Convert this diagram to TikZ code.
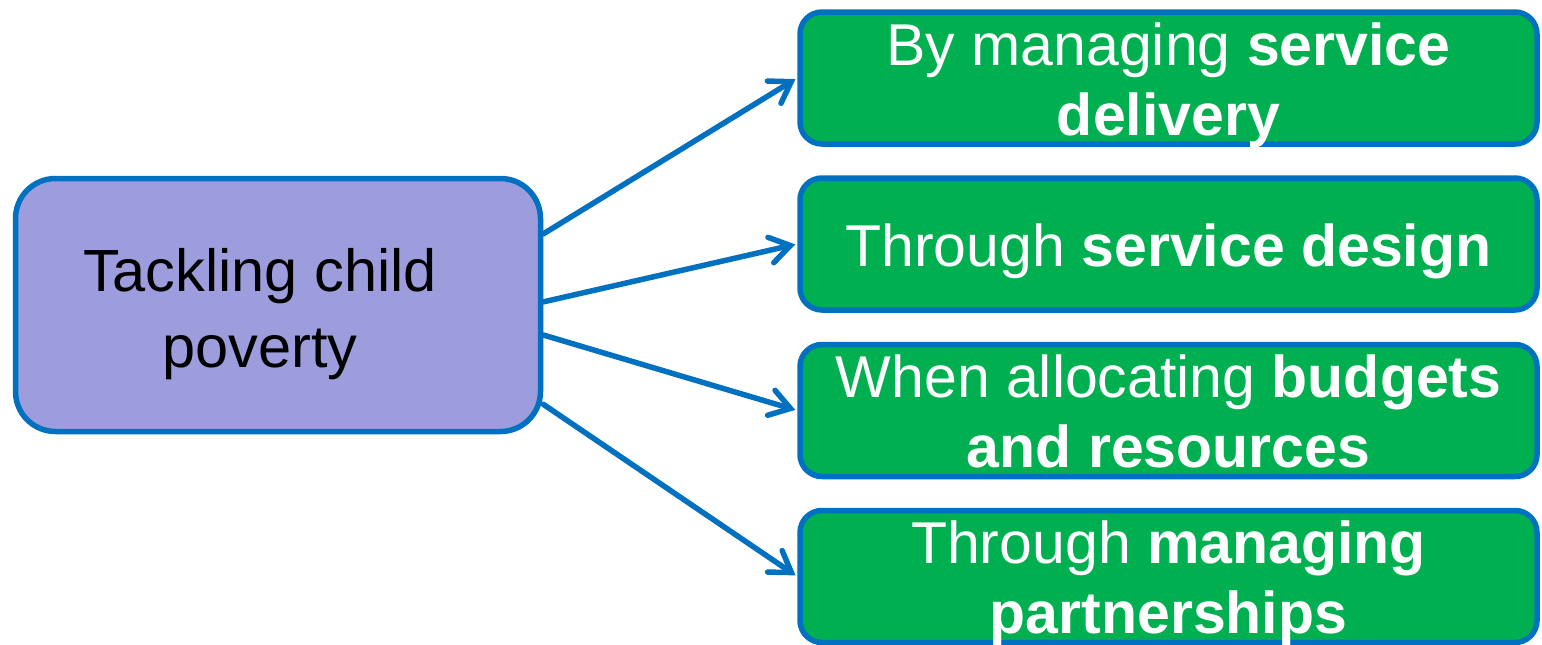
\documentclass[tikz,border=0pt]{standalone}
\usepackage{fontspec}
\setmainfont{Liberation Sans}
\usetikzlibrary{arrows.meta,calc}
\definecolor{edgeblue}{HTML}{0070C0}
\definecolor{rootfill}{HTML}{9D9DDE}
\definecolor{leaffill}{HTML}{00B050}
\tikzset{
  rootbox/.style={draw=edgeblue, line width=5.5pt, fill=rootfill, rounded corners=40pt,
    minimum width=525pt, minimum height=253pt, align=center, text=black,
    font=\fontsize{59.5}{76}\selectfont, inner sep=0pt,
    text height=124pt, text depth=0pt},
  leafbox/.style={draw=edgeblue, line width=5.5pt, fill=leaffill, rounded corners=22pt,
    minimum width=737pt, minimum height=132pt, align=center, text=white,
    font=\fontsize{59}{70}\selectfont, inner sep=0pt},
  % text box sizes that centre the cap height of the lines in each box
  twolines/.style={text height=114pt, text depth=0pt},
  oneline/.style={text height=44pt, text depth=0pt},
  conn/.style={draw=edgeblue, line width=5.5pt, line cap=round,
    -{Straight Barb[length=20pt, width=26pt, line cap=round]}, shorten >=2pt}
}
% the root label sits a little left of the box centre
\newcommand{\leftpad}{\hspace*{36pt}}
\begin{document}
\begin{tikzpicture}[x=1pt,y=-1pt]
\useasboundingbox (0,0) rectangle (1542,645);
\node[rootbox] (root) at (278,305) {Tackling child\leftpad\\poverty\leftpad};
\node[leafbox, twolines] (b1) at (1168.5,78) {By managing \textbf{service}\\\textbf{delivery}};
\node[leafbox, oneline] (b2) at (1168.5,244) {Through \textbf{service design}};
\node[leafbox, twolines] (b3) at (1168.5,410.5) {When allocating \textbf{budgets}\\\textbf{and resources}};
\node[leafbox, twolines] (b4) at (1168.5,576.5) {Through \textbf{managing}\\\textbf{partnerships}};
\draw[conn] ($(root.north east)!0.225!(root.south east)$) -- (b1.west);
\draw[conn] ($(root.north east)!0.488!(root.south east)$) -- (b2.west);
\draw[conn] ($(root.north east)!0.616!(root.south east)$) -- (b3.west);
\draw[conn] ($(root.north east)!0.884!(root.south east)$) -- (b4.west);
\end{tikzpicture}
\end{document}
